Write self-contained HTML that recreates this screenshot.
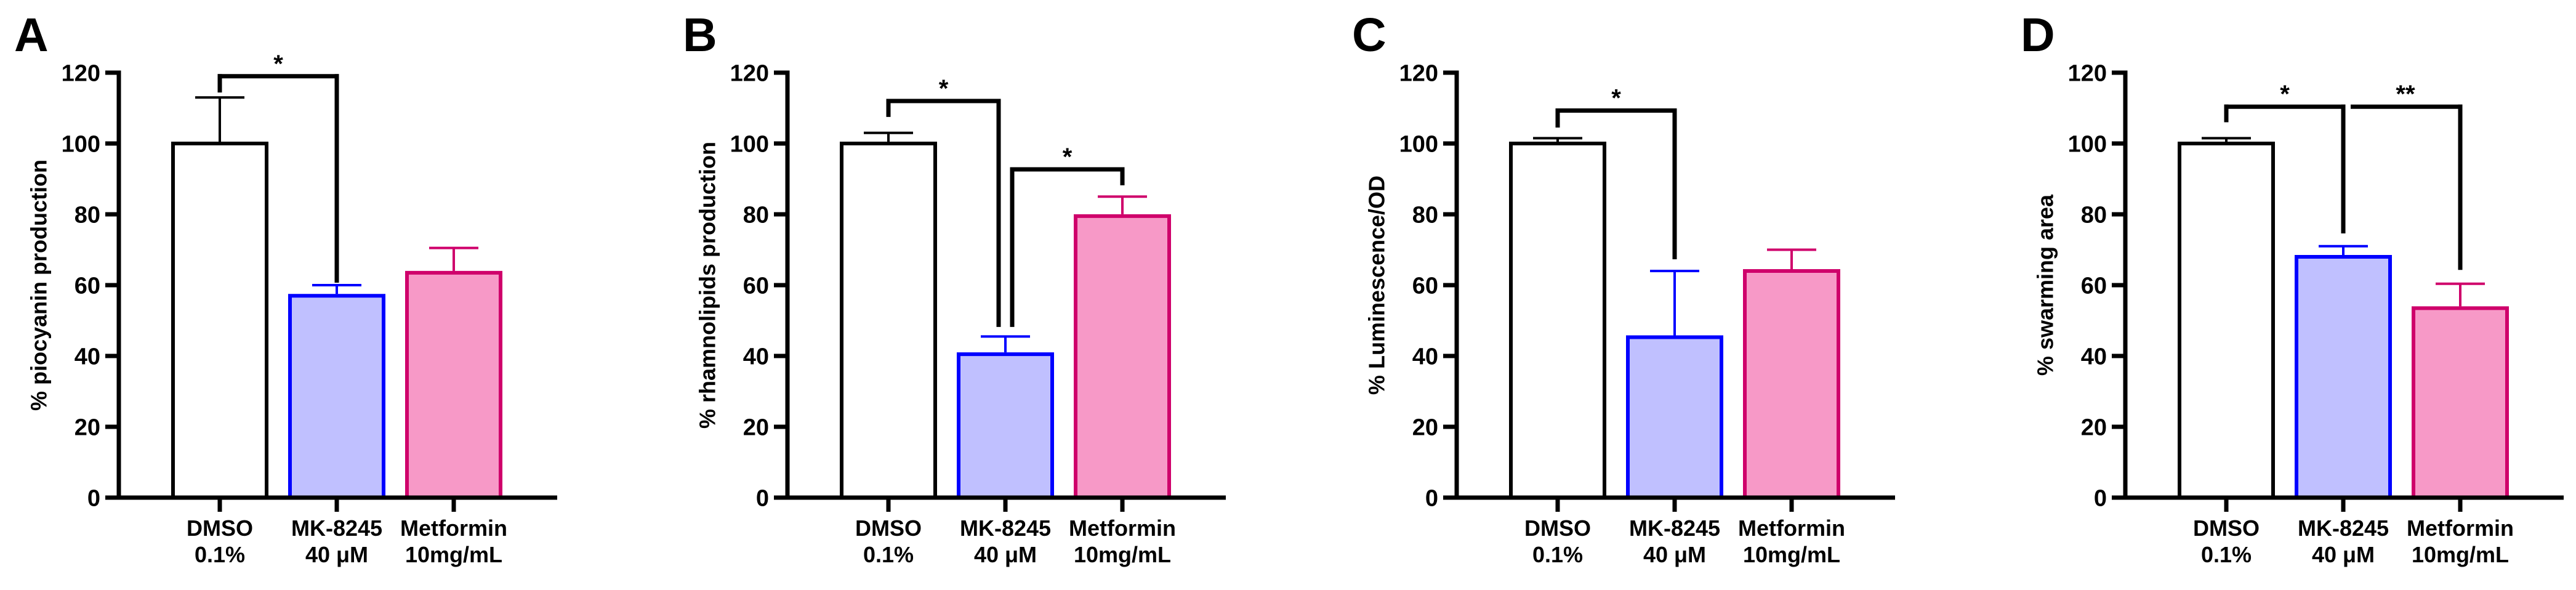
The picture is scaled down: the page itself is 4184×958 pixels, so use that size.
<!DOCTYPE html>
<html><head><meta charset="utf-8"><style>
html,body{margin:0;padding:0;background:#fff;}
svg{display:block;}
text{font-family:"Liberation Sans",Arial,sans-serif;font-weight:bold;fill:#000;}
</style></head><body>
<svg id="fig" width="4184" height="958" viewBox="0 0 4184 958" xmlns="http://www.w3.org/2000/svg"></svg>
<script>
const categories = ["DMSO|0.1%", "MK-8245|40 \u03bcM", "Metformin|10mg/mL"];
const yTicks = [0, 20, 40, 60, 80, 100, 120];
const panelLetters = ["A", "B", "C", "D"];
const yTitles = ["% piocyanin production", "% rhamnolipids production", "% Luminescence/OD", "% swarming area"];
const meansA = [100, 57, 63.5];
const errsA = [113, 60, 70.5];
const meansB = [100, 40.5, 79.5];
const errsB = [103, 45.5, 85];
const meansC = [100, 45.3, 64];
const errsC = [101.5, 64, 70];
const meansD = [100, 68, 53.5];
const errsD = [101.5, 71, 60.4];
// brackets: [fromIdx, toIdx, topValue, leftLegBottom, rightLegBottom, label, dxLeft, dxRight]
const bracketsA = [[0, 1, 119, 114.4, 60.7, "*", 0, 0]];
const bracketsB = [[0, 1, 112, 107.5, 48.2, "*", 0, -11], [1, 2, 92.7, 48.2, 88.2, "*", 11, 0]];
const bracketsC = [[0, 1, 109.3, 104.5, 67.3, "*", 0, 0]];
const bracketsD = [[0, 1, 110.4, 106, 74.6, "*", 0, 0], [1, 2, 110.4, null, 64.3, "**", 12, 0]];

const allMeans = [meansA, meansB, meansC, meansD];
const allErrs = [errsA, errsB, errsC, errsD];
const allBrackets = [bracketsA, bracketsB, bracketsC, bracketsD];

const NS = "http://www.w3.org/2000/svg";
const svg = document.getElementById("fig");
const strokes = ["#000000", "#0000FF", "#CF006B"];
const fills = ["#FFFFFF", "#C0C0FF", "#F799C7"];
const barNames = ["dmso", "mk8245", "metformin"];
const Y0 = 808, PXU = 5.75;
function y(v) { return Y0 - v * PXU; }
const axisX0 = 193, panelStep = 1086.3, axisLen = 712;
const catOffsets = [164, 354, 544];
function el(tag, attrs, parent) {
  const e = document.createElementNS(NS, tag);
  for (const k in attrs) e.setAttribute(k, attrs[k]);
  (parent || svg).appendChild(e);
  return e;
}
function line(x1, y1, x2, y2, c, w, g) {
  return el("line", {x1, y1, x2, y2, stroke: c, "stroke-width": w, "stroke-linecap": "butt"}, g);
}

for (let p = 0; p < 4; p++) {
  const ax = Math.round(axisX0 + p * panelStep);
  const g = el("g", {});
  
  
  const cx = i => ax + catOffsets[i];

  const letter = el("text", {x: ax - 170, y: 83, "font-size": 77}, g);
  letter.textContent = panelLetters[p];
  
  

  const tt = el("text", {x: 0, y: 0, "font-size": 36, "text-anchor": "middle", "dominant-baseline": "central",
    transform: "translate(" + (ax - 130) + "," + ((y(120) + Y0) / 2) + ") rotate(-90)"}, g);
  tt.textContent = yTitles[p];
  
  

  // bars
  const means = allMeans[p], errs = allErrs[p];
  for (let i = 0; i < 3; i++) {
    const bw = 152;
    const r = el("rect", {x: cx(i) - bw / 2, y: y(means[i]), width: bw, height: Y0 - y(means[i]),
      fill: fills[i], stroke: strokes[i], "stroke-width": 6}, g);
    
    
    const eg = el("g", {}, g);
    
    
    line(cx(i), y(means[i]) - 3, cx(i), y(errs[i]), strokes[i], 4, eg);
    line(cx(i) - 40, y(errs[i]), cx(i) + 40, y(errs[i]), strokes[i], 4, eg);
  }

  // y axis
  const ya = el("g", {}, g);
  
  
  line(ax, y(120) - 3.5, ax, Y0 + 3.5, "#000", 7, ya);
  for (const t of yTicks) {
    line(ax - 22, y(t), ax, y(t), "#000", 7, ya);
    const tl = el("text", {x: ax - 30, y: y(t) + 13.5, "font-size": 38, "text-anchor": "end"}, ya);
    tl.textContent = t;
    
    
  }
  // x axis
  const xa = el("g", {}, g);
  
  
  line(ax - 22, Y0, ax + axisLen, Y0, "#000", 7, xa);
  for (let i = 0; i < 3; i++) {
    line(cx(i), Y0, cx(i), Y0 + 23, "#000", 7, xa);
    const parts = categories[i].split("|");
    const t1 = el("text", {x: cx(i), y: 870, "font-size": 36, "text-anchor": "middle"}, xa);
    t1.textContent = parts[0];
    
    
    const t2 = el("text", {x: cx(i), y: 913, "font-size": 36, "text-anchor": "middle"}, xa);
    t2.textContent = parts[1];
    
    
  }

  // significance brackets
  for (const b of allBrackets[p]) {
    const bg = el("g", {}, g);
    
    
    const xl = cx(b[0]) + b[6], xr = cx(b[1]) + b[7], yt = y(b[2]);
    if (b[3] !== null) line(xl, y(b[3]), xl, yt - 3.5, "#000", 7, bg);
    line(xl - (b[3] !== null ? 3.5 : 0), yt, xr + 3.5, yt, "#000", 7, bg);
    line(xr, yt - 3.5, xr, y(b[4]), "#000", 7, bg);
    const st = el("text", {x: (xl + xr) / 2, y: yt - 7, "font-size": 40, "font-weight": "normal", "text-anchor": "middle"}, bg);
    st.textContent = b[5];
    
    
  }
}
</script>
</body></html>
